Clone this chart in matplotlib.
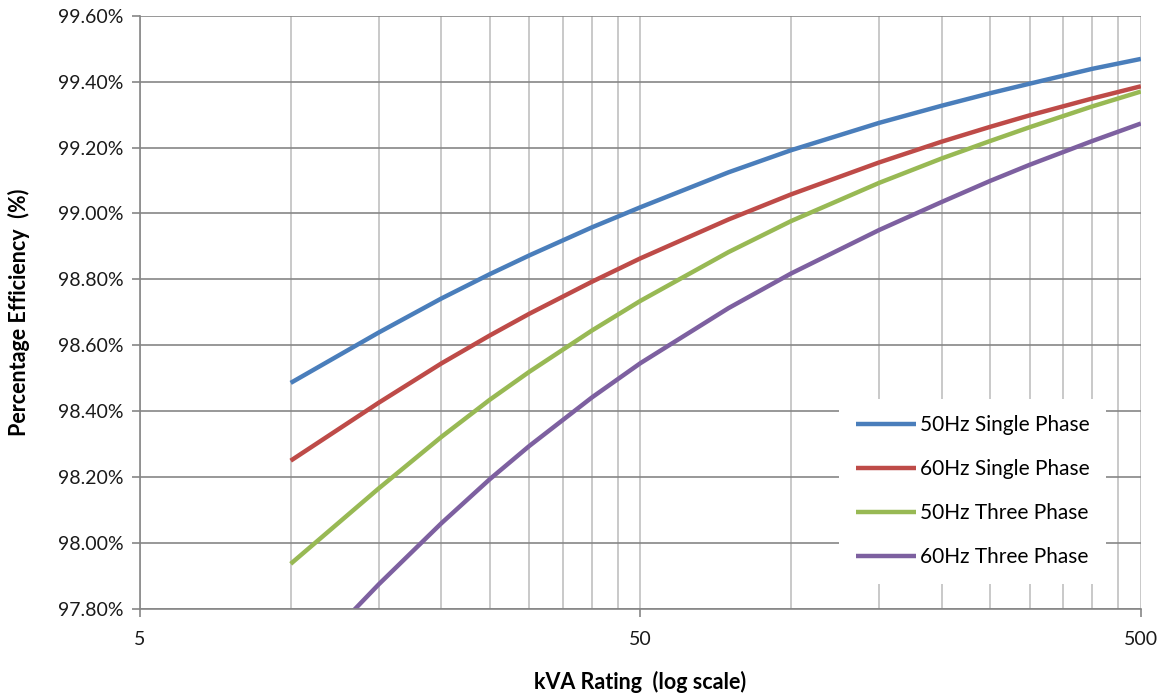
import numpy as np
import matplotlib
matplotlib.use('Agg')
import matplotlib.pyplot as plt
from matplotlib.ticker import FixedLocator, FuncFormatter, NullFormatter

plt.rcParams['font.family'] = ['Lato', 'DejaVu Sans']

kva = [10, 15, 20, 25, 30, 40, 50, 75, 100, 150, 200, 250, 300, 400, 500]
eff_50_single = [98.486, 98.639, 98.742, 98.816, 98.873, 98.958, 99.019, 99.125,
                 99.192, 99.275, 99.327, 99.365, 99.394, 99.439, 99.469]
eff_60_single = [98.250, 98.426, 98.545, 98.630, 98.696, 98.793, 98.864, 98.982,
                 99.058, 99.155, 99.218, 99.263, 99.298, 99.349, 99.386]
eff_50_three = [97.937, 98.166, 98.322, 98.435, 98.520, 98.645, 98.735, 98.883,
                98.977, 99.093, 99.167, 99.220, 99.262, 99.325, 99.370]
eff_60_three = [97.597, 97.875, 98.060, 98.194, 98.295, 98.442, 98.546, 98.713,
                98.818, 98.950, 99.035, 99.099, 99.148, 99.220, 99.273]

series = [
    ('50Hz Single Phase', eff_50_single, '#4a7ebb'),
    ('60Hz Single Phase', eff_60_single, '#be4b48'),
    ('50Hz Three Phase', eff_50_three, '#98b954'),
    ('60Hz Three Phase', eff_60_three, '#7d60a0'),
]

x_major = [5, 50, 500]
x_minor = [10, 15, 20, 25, 30, 35, 40, 45, 100, 150, 200, 250, 300, 350, 400, 450]
y_ticks = np.arange(97.8, 99.61, 0.2)

fig = plt.figure(figsize=(11.63, 6.93), dpi=100)
ax = fig.add_axes([0.1204, 0.1212, 0.8606, 0.8561])

for label, vals, col in series:
    ax.plot(kva, vals, color=col, linewidth=3.2, label=label, solid_capstyle='butt')

ax.set_xscale('log')
ax.set_xlim(5, 500)
ax.set_ylim(97.8, 99.6)
ax.xaxis.set_major_locator(FixedLocator(x_major))
ax.xaxis.set_minor_locator(FixedLocator(x_minor))
ax.xaxis.set_major_formatter(FuncFormatter(lambda v, p: '%d' % v))
ax.xaxis.set_minor_formatter(NullFormatter())
ax.set_yticks(y_ticks)
ax.yaxis.set_major_formatter(FuncFormatter(lambda v, p: '%.2f%%' % v))

# gridlines: darker horizontal, light vertical
ax.grid(True, axis='y', which='major', color='#868686', linewidth=1.2)
ax.grid(True, axis='x', which='both', color='#c0c0c0', linewidth=1.2)
ax.set_axisbelow(True)

for s in ['top', 'right']:
    ax.spines[s].set_visible(False)
for s in ['left', 'bottom']:
    ax.spines[s].set_color('#868686')
    ax.spines[s].set_linewidth(1.2)

ax.tick_params(axis='both', which='major', direction='out', length=6, width=1.2,
               color='#868686', labelsize=14, labelcolor='#1a1a1a')
ax.tick_params(axis='x', which='minor', length=0)
ax.tick_params(axis='x', which='major', pad=10)
ax.tick_params(axis='y', which='major', pad=6)

ax.set_xlabel('kVA Rating  (log scale)', fontsize=15.5, fontweight='bold', labelpad=16)
ax.set_ylabel('Percentage Efficiency  (%)', fontsize=15.5, fontweight='bold', labelpad=20)

leg = ax.legend(loc='lower right', bbox_to_anchor=(0.976, 0.025), fontsize=15,
                frameon=True, fancybox=False, framealpha=1.0, edgecolor='white',
                handlelength=2.9, handletextpad=0.2, labelspacing=1.15,
                borderpad=0.8)
leg.get_frame().set_linewidth(0)

plt.savefig('out.png', dpi=100)
